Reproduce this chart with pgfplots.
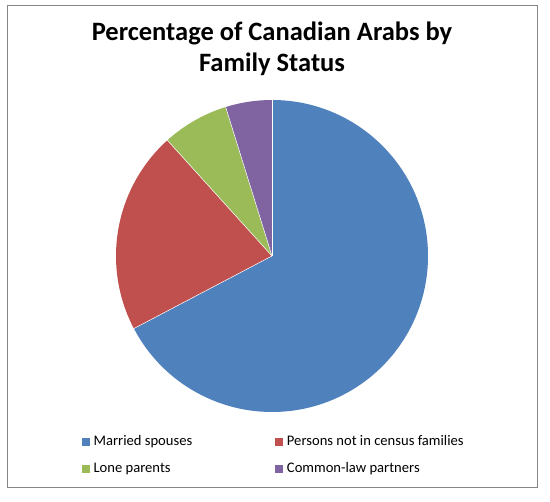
\documentclass[border=0pt]{standalone}
\usepackage{pgfplots}
\usepackage{pgfplotstable}
\pgfplotsset{compat=1.18}
\usepackage{fontspec}
\setmainfont{Carlito}

\definecolor{mblue}{HTML}{4F81BD}
\definecolor{mred}{HTML}{C0504D}
\definecolor{mgreen}{HTML}{9BBB59}
\definecolor{mpurple}{HTML}{8064A2}
\definecolor{frame}{HTML}{868686}

% share of Canadian Arabs by family status, in percent
\pgfplotstableread[col sep=comma,row sep=\\]{
label,value,color\\
Married spouses,67.3,mblue\\
Persons not in census families,21.0,mred\\
Lone parents,6.9,mgreen\\
Common-law partners,4.8,mpurple\\
}\piedata

\begin{document}
\begin{tikzpicture}
  \fill[white] (0,0) rectangle (550pt,502pt);
  \begin{axis}[
    at={(0,0)}, anchor=south west,
    x=1pt, y=1pt,
    xmin=0, xmax=550, ymin=0, ymax=502,
    enlargelimits=false,
    hide axis,
    clip=false,
    legend columns=2,
    legend cell align=left,
    legend style={
      at={(0.14855,0.13406)}, anchor=north west,
      draw=none, fill=none, inner sep=0pt,
      row sep=13pt,
      font=\fontsize{14.6}{17}\selectfont,
      nodes={inner sep=0pt, text height=11pt, text depth=3pt, anchor=west},
      /tikz/every odd column/.append style={column sep=4.3pt},
      /tikz/every even column/.append style={column sep=83pt},
    },
  ]
  % frame of the chart area
  \draw[frame, line width=1pt] (axis cs:7,496) rectangle (axis cs:537,14);

  % title
  \node[anchor=base, font=\bfseries\fontsize{26.5}{31}\selectfont]
    at (axis cs:272,461.3) {Percentage of Canadian Arabs by};
  \node[anchor=base, font=\bfseries\fontsize{26.5}{31}\selectfont]
    at (axis cs:272,430.3) {Family Status};

  % slices, clockwise from 12 o'clock
  \def\cum{0}
  \pgfplotsforeachungrouped \i in {0,...,3}{%
    \pgfplotstablegetelem{\i}{value}\of\piedata \let\val\pgfplotsretval
    \pgfplotstablegetelem{\i}{color}\of\piedata \let\col\pgfplotsretval
    \pgfplotstablegetelem{\i}{label}\of\piedata \let\lab\pgfplotsretval
    \pgfmathsetmacro\sa{90-3.6*\cum}
    \pgfmathsetmacro\cum{\cum+\val}
    \pgfmathsetmacro\ea{90-3.6*\cum}
    \edef\temp{%
      \noexpand\fill[\col] (axis cs:272,246) -- ++(\sa:156pt)
        arc[start angle=\sa, end angle=\ea, radius=156pt] -- cycle;
      \noexpand\addlegendimage{legend image code/.code={%
        \noexpand\fill[\col] (0pt,-3.5pt) rectangle (7pt,3.5pt);}}
      \noexpand\addlegendentry{\lab}%
    }%
    \temp
  }
  % thin white seams between slices
  \def\cum{0}
  \pgfplotsforeachungrouped \i in {0,...,3}{%
    \pgfplotstablegetelem{\i}{value}\of\piedata \let\val\pgfplotsretval
    \pgfmathsetmacro\sa{90-3.6*\cum}
    \pgfmathsetmacro\cum{\cum+\val}
    \edef\temp{\noexpand\draw[white, line width=0.5pt]
      (axis cs:272,246) -- ++(\sa:156pt);}%
    \temp
  }
  \end{axis}
\end{tikzpicture}
\end{document}
